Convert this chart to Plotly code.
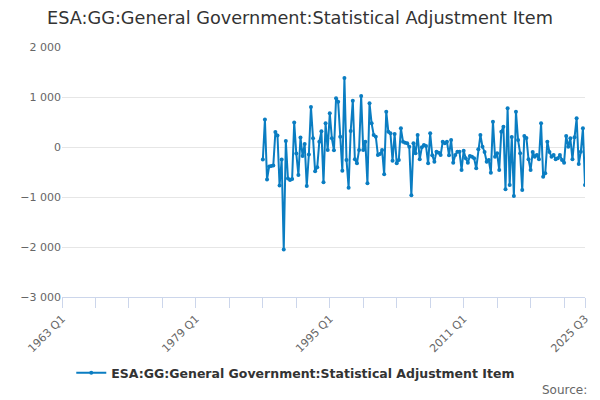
# Line chart - ESA:GG Statistical Adjustment Item, quarterly
import plotly.graph_objects as go

# quarters on the axis: 1963 Q1 .. 2025 Q3
quarters = [f"{y} Q{q}" for y in range(1963, 2026) for q in range(1, 5)]
quarters = quarters[:quarters.index("2025 Q3") + 1]

# series starts 1987 Q1
first_quarter = "1987 Q1"

# values (1987 Q1 .. 2025 Q3)
adjustment = [
    -250, 550, -650, -390, -380, -370, 300, 230, -770, -250,
    -2050, 120, -630, -660, -640, 490, -130, -560, 190, -180,
    60, -780, -150, 800,
    173, -487, -407, 107, 313, -707, 473, -60, 673, 173,
    -67, 973, 907, 207, -473, 1380, -260, -813, 320, 927,
    -247, -327, -60, 1020, -60, 107, -727, 873, 473, 240,
    207, -160, -140, -60, -547, 707, 307, 273, -273, 260,
    -327, -260, 373, 107, 87, 73, 7, -967,
    73, -127, 240, -247, -7, 40, 20, -327, 273, -167,
    -293, -93, -113, -160, 107, 73, 107, -167, 140, -313,
    -160, -93, -93, -460, -73, -227, -313, -180, -193, -227,
    -427, -47, 240, 7, -100, -293, -260, -513, 507, -193,
    -127, -460, 307, 407, -847, 773, -760, 200, -980, 707,
    140, -127, -860, 220, 180, -247, -460, -100, -193, -160,
    -247, 473, -593, -527, 107, -100, -193, -160, -247, -227,
    -160, -260, -313, 220, 7, 173, -247, 193, 573, -340,
    -93, 373, -760,
]

start = quarters.index(first_quarter)
x_quarters = quarters[start:start + len(adjustment)]

# ticks every 4 years, labels every 16 years plus the last quarter
tick_vals = [q for q in quarters if q.endswith("Q1") and (int(q[:4]) - 1963) % 4 == 0] + ["2025 Q3"]
labelled = ["1963 Q1", "1979 Q1", "1995 Q1", "2011 Q1", "2025 Q3"]
tick_text = [q if q in labelled else "" for q in tick_vals]

name = "ESA:GG:General Government:Statistical Adjustment Item"

fig = go.Figure()
fig.add_trace(go.Scatter(
    x=x_quarters, y=adjustment, name=name, mode="lines+markers",
    line=dict(color="#0a7dc2", width=2),
    marker=dict(color="#0a7dc2", size=4),
))

# page body adds 8px, so the figure is 8px smaller each way
fig.update_layout(
    width=592, height=392,
    margin=dict(l=54, r=15, t=39, b=103, autoexpand=False),
    paper_bgcolor="white", plot_bgcolor="white",
    font=dict(family="DejaVu Sans", color="#666666", size=11),
    title=dict(text=name, x=0.4932, xanchor="center", y=0.9745, yanchor="middle",
               font=dict(size=17.7, color="#333333")),
    xaxis=dict(
        type="category", categoryorder="array", categoryarray=quarters,
        range=[0, len(quarters) - 1], automargin=False,
        tickmode="array", tickvals=tick_vals, ticktext=tick_text,
        tickangle=-45, ticks="outside", ticklen=10, tickcolor="#ccd6eb",
        showline=True, linecolor="#ccd6eb", linewidth=1,
        showgrid=False, zeroline=False,
        tickfont=dict(size=11, color="#666666"),
    ),
    yaxis=dict(
        range=[-3000, 2000], dtick=1000, tickformat=",d", automargin=False,
        showgrid=True, gridcolor="#e6e6e6", zeroline=False,
        tickfont=dict(size=11, color="#666666"),
    ),
    separators=". ",
    showlegend=True,
    legend=dict(orientation="h", x=0.447, xanchor="center", y=-0.304, yanchor="middle",
                itemwidth=30,
                font=dict(size=12.5, color="#333333", weight="bold")),
    annotations=[dict(text="Source:", xref="paper", yref="paper", x=1.0076, y=-0.372,
                      xanchor="right", yanchor="middle", showarrow=False,
                      font=dict(size=12, color="#666666"))],
)

fig.write_html("out.html")
